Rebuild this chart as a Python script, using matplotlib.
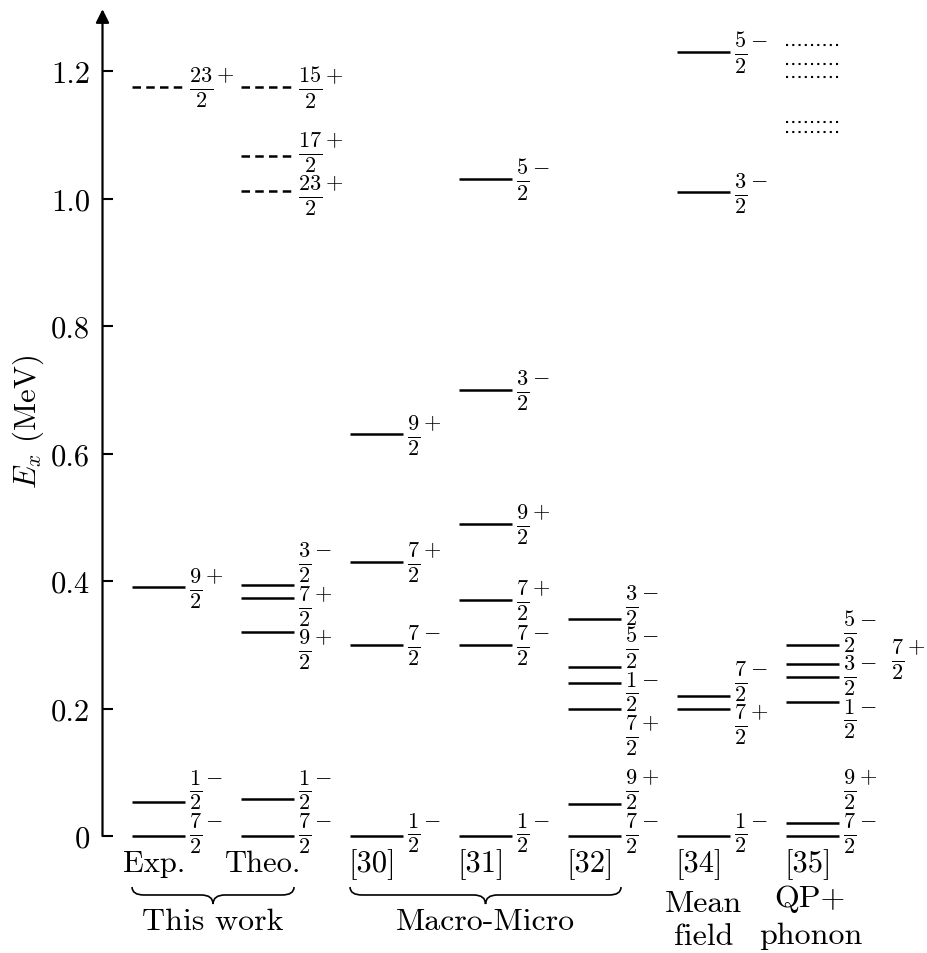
import numpy as np
import matplotlib
matplotlib.use('Agg')
import matplotlib.pyplot as plt
from matplotlib.path import Path
from matplotlib.patches import PathPatch

plt.rcParams['font.family'] = 'cmr10'
plt.rcParams['mathtext.fontset'] = 'cm'
plt.rcParams['axes.formatter.use_mathtext'] = True

# column names under the level schemes
columns = ['Exp.', 'Theo.', '[30]', '[31]', '[32]', '[34]', '[35]']

# solid levels (MeV) and spin-parity, one pair of lists per column
exp_E = [0.0, 0.053, 0.39]
exp_J = ['7/2-', '1/2-', '9/2+']
theo_E = [0.0, 0.058, 0.32, 0.373, 0.393]
theo_J = ['7/2-', '1/2-', '9/2+', '7/2+', '3/2-']
r30_E = [0.0, 0.30, 0.43, 0.63]
r30_J = ['1/2-', '7/2-', '7/2+', '9/2+']
r31_E = [0.0, 0.30, 0.37, 0.49, 0.70, 1.03]
r31_J = ['1/2-', '7/2-', '7/2+', '9/2+', '3/2-', '5/2-']
r32_E = [0.0, 0.05, 0.20, 0.24, 0.265, 0.34]
r32_J = ['7/2-', '9/2+', '7/2+', '1/2-', '5/2-', '3/2-']
r34_E = [0.0, 0.20, 0.22, 1.01, 1.23]
r34_J = ['1/2-', '7/2+', '7/2-', '3/2-', '5/2-']
r35_E = [0.0, 0.02, 0.21, 0.25, 0.30]
r35_J = ['7/2-', '9/2+', '1/2-', '3/2-', '5/2-']
# [35] level whose label is put in a second label column
r35_side_E = [0.27]
r35_side_J = ['7/2+']

# dashed high-spin levels
exp_dash_E = [1.175]
exp_dash_J = ['23/2+']
theo_dash_E = [1.012, 1.067, 1.175]
theo_dash_J = ['23/2+', '17/2+', '15/2+']

# dotted levels of [35], no labels
r35_dot_E = [1.105, 1.12, 1.19, 1.211, 1.241]

yticks = [0, 0.2, 0.4, 0.6, 0.8, 1.0, 1.2]
ytick_labels = ['0', '0.2', '0.4', '0.6', '0.8', '1.0', '1.2']

half = 0.243     # half length of a level line (column units)
fs = 22          # main font size
lfs = 23         # spin label font size


def jp(s):
    num, rest = s.split('/')
    return r'$\frac{%s}{%s}^{%s}$' % (num, rest[:-1], rest[-1])


def spread(E, gap=0.068, floor=0.006):
    # push labels apart so they do not overlap
    order = np.argsort(E)
    clusters = [[E[i]] for i in order]
    merged = True
    while merged:
        merged = False
        for k in range(len(clusters) - 1):
            a, b = clusters[k], clusters[k + 1]
            ca, cb = np.mean(a), np.mean(b)
            top_a = ca + (len(a) - 1) / 2 * gap
            bot_b = cb - (len(b) - 1) / 2 * gap
            if bot_b - top_a < gap:
                clusters[k] = a + b
                del clusters[k + 1]
                merged = True
                break
    pos = []
    for c in clusters:
        m = np.mean(c)
        pos += [m + (k - (len(c) - 1) / 2) * gap for k in range(len(c))]
    pos = np.array(pos)
    if pos[0] < floor:
        n0 = len(clusters[0])
        pos[:n0] += floor - pos[0]
    out = np.empty(len(E))
    out[order] = pos
    return out


def draw_levels(ax, col, E, J, ls='-', lw=1.8):
    ax.hlines(E, col - half, col + half, colors='k', linestyles=ls, lw=lw)
    if J is None:
        return
    for y, j in zip(spread(E), J):
        ax.text(col + half + 0.04, y, jp(j), fontsize=lfs, ha='left', va='center')


def brace(ax, x0, x1, y0, ym, yt, r=0.11):
    xc = (x0 + x1) / 2
    verts = [(x0, y0), (x0, ym), (x0 + r, ym),
             (xc - r, ym),
             (xc, ym), (xc, yt),
             (xc, ym), (xc + r, ym),
             (x1 - r, ym),
             (x1, ym), (x1, y0)]
    codes = [Path.MOVETO, Path.CURVE3, Path.CURVE3,
             Path.LINETO,
             Path.CURVE3, Path.CURVE3,
             Path.CURVE3, Path.CURVE3,
             Path.LINETO,
             Path.CURVE3, Path.CURVE3]
    ax.add_patch(PathPatch(Path(verts, codes), fill=False, lw=1.2, color='k',
                           clip_on=False))


fig = plt.figure(figsize=(9.27, 9.54), dpi=100)
ax = fig.add_axes([102.5 / 927, 0, 1 - 102.5 / 927, 1])
ax.set_xlim(-0.514, 7.05)
ax.set_ylim(-0.1835, 1.313)

cols = np.arange(len(columns))
solid = [(exp_E, exp_J), (theo_E, theo_J), (r30_E, r30_J), (r31_E, r31_J),
         (r32_E, r32_J), (r34_E, r34_J), (r35_E, r35_J)]
for c, (E, J) in zip(cols, solid):
    draw_levels(ax, c, E, J)

# [35] level with its label shifted to the right
ax.hlines(r35_side_E, cols[6] - half, cols[6] + half, colors='k', lw=1.8)
for y, j in zip(r35_side_E, r35_side_J):
    ax.text(cols[6] + half + 0.48, y + 0.008, jp(j), fontsize=lfs, ha='left', va='center')

dash = (0, (3.4, 2.1))
draw_levels(ax, cols[0], exp_dash_E, exp_dash_J, ls=[dash])
draw_levels(ax, cols[1], theo_dash_E, theo_dash_J, ls=[dash])
draw_levels(ax, cols[6], r35_dot_E, None, ls=[(0, (1, 2))], lw=1.5)

# column names
for c, name in zip(cols, columns):
    ax.text(c - 0.04, -0.0545, name, fontsize=fs, ha='center', va='baseline')

# group braces and names
brace(ax, cols[0] - half, cols[1] + half, -0.080, -0.0925, -0.1067)
brace(ax, cols[2] - half, cols[4] + half, -0.080, -0.0925, -0.1067)
ax.text((cols[0] + cols[1]) / 2, -0.146, 'This work', fontsize=fs + 1, ha='center', va='baseline')
ax.text(cols[3], -0.146, 'Macro-Micro', fontsize=fs + 1, ha='center', va='baseline')
ax.text(cols[5], -0.117, 'Mean', fontsize=fs + 1, ha='center', va='baseline')
ax.text(cols[5], -0.170, 'field', fontsize=fs + 1, ha='center', va='baseline')
ax.text(cols[6] - 0.02, -0.110, 'QP+', fontsize=fs + 1, ha='center', va='baseline')
ax.text(cols[6] - 0.02, -0.168, 'phonon', fontsize=fs + 1, ha='center', va='baseline')

# axis with arrow
for s in ['top', 'right', 'bottom', 'left']:
    ax.spines[s].set_visible(False)
x_ax = ax.get_xlim()[0]
ax.annotate('', xy=(x_ax, 1.297), xytext=(x_ax, 0.0),
            arrowprops=dict(arrowstyle='-|>,head_length=0.4,head_width=0.2',
                            mutation_scale=20, lw=1.6, color='k',
                            shrinkA=0, shrinkB=0),
            annotation_clip=False)
ax.set_xticks([])
ax.set_yticks(yticks)
ax.set_yticklabels(ytick_labels)
ax.tick_params(axis='y', direction='in', length=7, width=1.5, labelsize=fs, pad=9)
ax.set_ylabel(r'$E_x$ (MeV)', fontsize=fs)
ax.yaxis.set_label_coords(-0.0904, 0.5577)
ax.yaxis.label.set_verticalalignment('center')

fig.savefig('out.png', dpi=100)
